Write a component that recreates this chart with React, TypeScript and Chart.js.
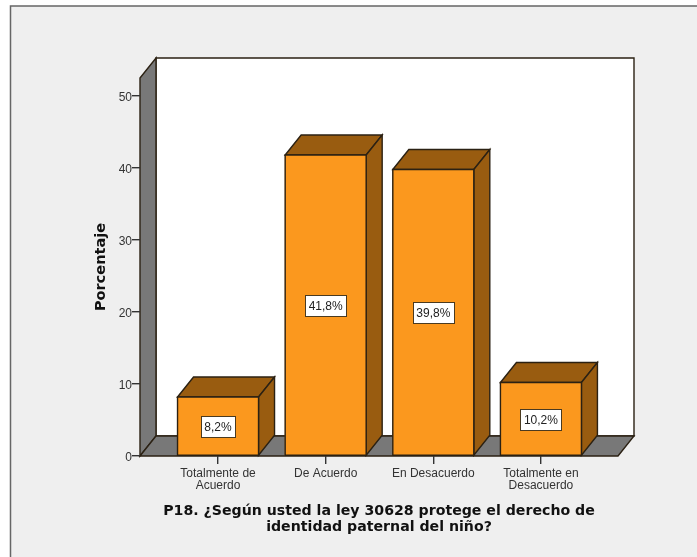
import React, { useEffect, useRef } from "react";
import { Chart, registerables } from "chart.js";

Chart.register(...registerables);

const categories: string[][] = [
  ["Totalmente de", "Acuerdo"],
  ["De Acuerdo"],
  ["En Desacuerdo"],
  ["Totalmente en", "Desacuerdo"],
];
const values = [8.2, 41.8, 39.8, 10.2];
const yTicksMax = 52.5;
const yAxisTitle = "Porcentaje";
const xAxisTitle = [
  "P18. ¿Según usted la ley 30628 protege el derecho de",
  "identidad paternal del niño?",
];

const DEPTH_X = 16;
const DEPTH_Y = 20;
const INK = "#2b2113";
const FRONT = "#fb981e";
const DARK = "#995c10";
const WALL = "#787878";
const FONT = '"Liberation Sans", Arial, sans-serif';
const TITLE_FONT = '"DejaVu Sans", Verdana, sans-serif';

function poly(ctx: CanvasRenderingContext2D, pts: number[][], fill: string, stroke = INK, lw = 1.4) {
  ctx.beginPath();
  pts.forEach(([x, y], i) => (i ? ctx.lineTo(x, y) : ctx.moveTo(x, y)));
  ctx.closePath();
  ctx.fillStyle = fill;
  ctx.fill();
  ctx.strokeStyle = stroke;
  ctx.lineWidth = lw;
  ctx.lineJoin = "miter";
  ctx.stroke();
}

const scenePlugin = {
  id: "scene3d",
  beforeDraw(chart: any) {
    const { ctx, width, height, chartArea: a } = chart;
    ctx.save();
    ctx.fillStyle = "#ffffff";
    ctx.fillRect(0, 0, width, height);
    ctx.fillStyle = "#efefef";
    ctx.fillRect(10.5, 6, width, height);
    ctx.strokeStyle = "#666666";
    ctx.lineWidth = 1.5;
    ctx.beginPath();
    ctx.moveTo(10.5, height);
    ctx.lineTo(10.5, 6);
    ctx.lineTo(width, 6);
    ctx.stroke();
    const { left: l, right: r, top: t, bottom: b } = a;
    // back wall
    poly(ctx, [[l + DEPTH_X, t - DEPTH_Y], [r + DEPTH_X, t - DEPTH_Y], [r + DEPTH_X, b - DEPTH_Y], [l + DEPTH_X, b - DEPTH_Y]], "#ffffff");
    // side wall
    poly(ctx, [[l, t], [l + DEPTH_X, t - DEPTH_Y], [l + DEPTH_X, b - DEPTH_Y], [l, b]], WALL);
    // floor
    poly(ctx, [[l, b], [l + DEPTH_X, b - DEPTH_Y], [r + DEPTH_X, b - DEPTH_Y], [r, b]], WALL);
    ctx.restore();
  },
  afterDatasetsDraw(chart: any) {
    const { ctx } = chart;
    const meta = chart.getDatasetMeta(0);
    ctx.save();
    meta.data.forEach((bar: any, i: number) => {
      const { x, y, base, width: w } = bar.getProps(["x", "y", "base", "width"], true);
      const x0 = x - w / 2;
      const x1 = x + w / 2;
      poly(ctx, [[x0, y], [x0 + DEPTH_X, y - DEPTH_Y], [x1 + DEPTH_X, y - DEPTH_Y], [x1, y]], DARK);
      poly(ctx, [[x1, y], [x1 + DEPTH_X, y - DEPTH_Y], [x1 + DEPTH_X, base - DEPTH_Y], [x1, base]], DARK);
      poly(ctx, [[x0, y], [x1, y], [x1, base], [x0, base]], FRONT);
      const label = values[i].toFixed(1).replace(".", ",") + "%";
      ctx.font = `12px ${FONT}`;
      const tw = ctx.measureText(label).width;
      const bw = Math.round(tw + 7);
      const cy = (y + base) / 2;
      const bx = Math.round(x - bw / 2) + 0.5;
      const by = Math.round(cy - 10) + 0.5;
      ctx.fillStyle = "#ffffff";
      ctx.fillRect(bx, by, bw, 21);
      ctx.strokeStyle = "#4a3a20";
      ctx.lineWidth = 1;
      ctx.strokeRect(bx, by, bw, 21);
      ctx.fillStyle = "#222222";
      ctx.textAlign = "center";
      ctx.textBaseline = "middle";
      ctx.fillText(label, x, by + 11);
    });
    ctx.restore();
  },
};

export default function App() {
  const ref = useRef<HTMLCanvasElement>(null);
  useEffect(() => {
    document.body.style.margin = "0";
    const chart = new Chart(ref.current!, {
      type: "bar",
      data: {
        datasets: [
          {
            data: values.map((v, i) => ({ x: i, y: v })),
            backgroundColor: FRONT,
            barThickness: 81,
          },
        ],
      },
      plugins: [scenePlugin],
      options: {
        animation: false,
        responsive: false,
        layout: { padding: { left: 93, top: 78, right: 79, bottom: 0 } },
        plugins: { legend: { display: false }, tooltip: { enabled: false } },
        scales: {
          x: {
            type: "linear",
            offset: false,
            min: -0.725,
            max: 3.716,
            grid: { offset: false, drawOnChartArea: false, tickLength: 8, tickColor: "#333333", lineWidth: 1.4 },
            border: { display: false },
            afterFit: (s: any) => { s.height = 101; },
            ticks: {
              stepSize: 1,
              includeBounds: false,
              maxRotation: 0,
              autoSkip: false,
              padding: 4,
              color: "#333333",
              font: { family: FONT, size: 12, lineHeight: 1 },
              callback: (v: any) => categories[v as number] ?? "",
            },
            title: {
              display: true,
              text: xAxisTitle,
              color: "#111111",
              font: { family: TITLE_FONT, size: 14.15, weight: "bold", lineHeight: 1.13 },
              padding: { top: 0, bottom: 22 },
            },
          },
          y: {
            min: 0,
            max: yTicksMax,
            grid: { drawOnChartArea: false, tickLength: 8, tickColor: "#333333", lineWidth: 1.4 },
            border: { display: false },
            afterFit: (s: any) => { s.width = 47; },
            ticks: {
              stepSize: 10,
              includeBounds: false,
              padding: 0,
              labelOffset: 2,
              color: "#333333",
              font: { family: FONT, size: 12 },
            },
            title: {
              display: true,
              text: yAxisTitle,
              color: "#111111",
              font: { family: TITLE_FONT, size: 14.5, weight: "bold" },
              padding: 0,
            },
          },
        },
      } as any,
    });
    return () => chart.destroy();
  }, []);
  return <canvas ref={ref} width={697} height={557} style={{ display: "block" }} />;
}
